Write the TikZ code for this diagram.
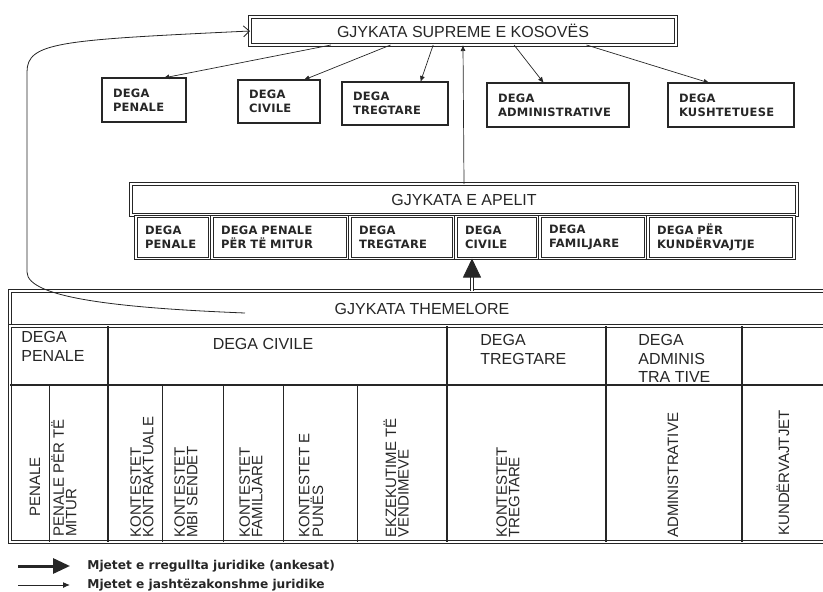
\documentclass[tikz,border=0pt]{standalone}
\usepackage{fontspec}
\setmainfont{Liberation Sans}
\newfontfamily\degafont[LetterSpace=2]{DejaVu Sans}
\newfontfamily\legendfont{DejaVu Sans}
\usetikzlibrary{arrows.meta,positioning,calc}
\colorlet{ink}{black!85}
\tikzset{
    >={Latex[length=6pt,width=5pt]},
    every picture/.style={line width=0.8pt},
    court/.style={draw=ink,double,double distance=1.4pt,line width=1.1pt,inner sep=0pt,outer sep=0pt,
        font=\fontsize{16}{18}\selectfont,text=ink},
    dega/.style={draw=ink,line width=1.6pt,anchor=north west,align=left,inner xsep=11pt,outer sep=0pt,
        minimum height=44pt,font=\degafont\bfseries\fontsize{11.5}{14}\selectfont,text=ink},
    apcell/.style={draw=ink,line width=3.4pt,postaction={draw=white,line width=1.4pt},anchor=north west,outer sep=0pt,
        align=left,inner xsep=9pt,minimum height=42pt,font=\degafont\bfseries\fontsize{11.5}{14}\selectfont,text=ink},
    head/.style={anchor=north west,align=left,inner sep=0pt,font=\fontsize{16}{18.5}\selectfont,text=ink},
    sub/.style={rotate=90,anchor=west,align=left,inner sep=0pt,font=\fontsize{15}{12.5}\selectfont,text=ink},
    thinarrow/.style={draw=ink,line width=0.7pt,->},
    mainarrow/.style={draw=ink,double,double distance=2.4pt,line width=0.8pt,-{Triangle[width=18pt,length=19pt]}},
    legend/.style={anchor=west,inner sep=0pt,font=\legendfont\bfseries\fontsize{12.2}{14}\selectfont,text=ink}
}

\begin{document}
\begin{tikzpicture}[x=1pt,y=-1pt]
    \useasboundingbox (0,0) rectangle (823,592);

    % Supreme court and its branches
    \node[court,minimum width=426pt,minimum height=28pt] (supreme) at (463,31) {GJYKATA SUPREME E KOSOVËS};
    \node[dega,text width=62pt] (spen) at (102,78) {DEGA\\PENALE};
    \node[dega,text width=60pt,minimum height=43pt] (sciv) at (238,80) {DEGA\\CIVILE};
    \node[dega,text width=84pt,minimum height=43pt] (stre) at (342,82) {DEGA\\TREGTARE};
    \node[dega,text width=120pt] (sadm) at (487,83) {DEGA\\ADMINISTRATIVE};
    \node[dega,text width=104pt] (skus) at (668,83) {DEGA\\KUSHTETUESE};
    \foreach \a/\n/\t in {0.19/spen/0.73,0.33/sciv/0.80,0.43/stre/0.74,0.62/sadm/0.40,0.79/skus/0.33}
        \draw[thinarrow] ($(supreme.south west)!\a!(supreme.south east)$) -- ($(\n.north west)!\t!(\n.north east)$);

    % Court of appeal
    \node[court,minimum width=666pt,minimum height=31pt] (apelit) at (464,199.5) {GJYKATA E APELIT};
    \node[apcell,text width=56pt] (apen) at (136,216.5) {DEGA\\PENALE};
    \node[apcell,text width=118pt] (amit) at (212,216.5) {DEGA PENALE\\PËR TË MITUR};
    \node[apcell,text width=86pt] (atre) at (350,216.5) {DEGA\\TREGTARE};
    \node[apcell,text width=64pt] (aciv) at (456,216.5) {DEGA\\CIVILE};
    \node[apcell,text width=88pt] (afam) at (540,216.5) {DEGA\\FAMILJARE};
    \node[apcell,text width=128pt] (akun) at (648,216.5) {DEGA PËR\\KUNDËRVAJTJE};
    \draw[thinarrow] (apelit.north) -- (supreme.south);

    % Basic court
    \node[court,minimum width=824pt,minimum height=35pt] (them) at (422,308.5) {GJYKATA THEMELORE};
    \node[court,minimum width=824pt,minimum height=216pt,anchor=north west] (body) at (them.south west) {};
    \draw[ink,line width=1.2pt] (10,385) -- (834,385);
    \foreach \x in {108,447,606,742}
        \draw[ink,line width=1.4pt] (\x,326) -- (\x,542);
    \foreach \x in {49,162,223,283,357}
        \draw[ink,line width=0.8pt] (\x,385) -- (\x,542);

    \node[head] (hpen) at (21,331) {DEGA\\PENALE};
    \node[head,anchor=center] (hciv) at (263,344) {DEGA CIVILE};
    \node[head] (htre) at (480,334) {DEGA\\TREGTARE};
    \node[head] (hadm) at (638,334) {DEGA\\ADMINIS\\TRA TIVE};

    \node[sub] (cpen) at (35,517) {PENALE};
    \node[sub] (cmit) at (64,537) {PENALE PËR TË\\MITUR};
    \node[sub] (ck1) at (142,538) {KONTESTET\\KONTRAKTUALE};
    \node[sub] (ck2) at (186,538) {KONTESTET\\MBI SENDET};
    \node[sub] (ck3) at (251,538) {KONTESTET\\FAMILJARE};
    \node[sub] (ck4) at (311,538) {KONTESTET E\\PUNËS};
    \node[sub] (cekz) at (396,538) {EKZEKUTIME TË\\VENDIMEVE};
    \node[sub] (ctre) at (508,538) {KONTESTET\\TREGTARE};
    \node[sub] (cadm) at (673,538) {ADMINISTRATIVE};
    \node[sub] (ckun) at (783,536) {KUNDËRVAJTJET};

    % Appeals
    \coordinate (thk) at (472,291);
    \draw[mainarrow] (thk) -- (thk |- aciv.south);
    \coordinate (rt) at (245,313);
    \draw[ink,line width=0.8pt,-{Straight Barb[length=6pt,width=11pt]}] (rt) .. controls (120,308) and (27,298) .. (27,272)
        -- (27,72) .. controls (27,42) and (60,40) .. (supreme.west);

    % Legend
    \node[legend] (lg1) at (87,566) {Mjetet e rregullta juridike (ankesat)};
    \node[legend] (lg2) at (87,585) {Mjetet e jashtëzakonshme juridike};
    \draw[ink,line width=3pt,-{Triangle[width=15pt,length=17pt]}] ([xshift=-69pt]lg1.west) -- ([xshift=-17pt]lg1.west);
    \draw[ink,line width=1pt,-{Latex[length=7pt,width=6pt]}] ([xshift=-69pt]lg2.west) -- ([xshift=-17pt]lg2.west);
\end{tikzpicture}
\end{document}
